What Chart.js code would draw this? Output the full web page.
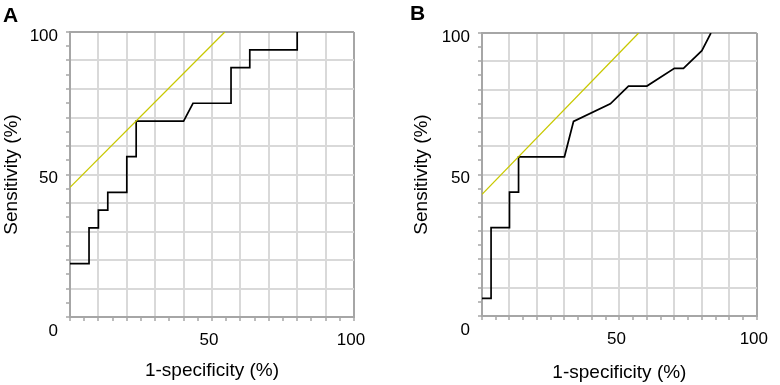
<!DOCTYPE html>
<html>
<head>
<meta charset="utf-8">
<script src="https://cdn.jsdelivr.net/npm/chart.js@4.4.1/dist/chart.umd.min.js"></script>
<style>
  body { margin: 0; background: #fff; }
  .panel { position: absolute; top: 0; width: 390px; height: 385px; }
  .tag { position: absolute; font: bold 21px "Liberation Sans", Arial, sans-serif; line-height: 21px; color: #000; }
</style>
</head>
<body>
<div class="panel" style="left:0"><canvas id="chart_a" width="390" height="385"></canvas></div>
<div class="panel" style="left:390px"><canvas id="chart_b" width="390" height="385"></canvas></div>
<div class="tag" style="left:3px;top:4px">A</div>
<div class="tag" style="left:410px;top:2px">B</div>
<script>
// panel A: ROC steps
const fprA  = [0, 6.7, 6.7, 10, 10, 13.3, 13.3, 20, 20, 23.3, 23.3, 40, 43.3, 56.7, 56.7, 63.3, 63.3, 80, 80];
const sensA = [18.75, 18.75, 31.25, 31.25, 37.5, 37.5, 43.75, 43.75, 56.25, 56.25, 68.75, 68.75, 75, 75, 87.5, 87.5, 93.75, 93.75, 100];
const tanAx = [0, 54.5];
const tanAy = [45.5, 100];

// panel B
const fprB  = [0, 3.3, 3.3, 10, 10, 13.3, 13.3, 30, 33.3, 46.7, 53.3, 60, 70, 73.3, 80, 83.3];
const sensB = [6.25, 6.25, 31.25, 31.25, 43.75, 43.75, 56.25, 56.25, 68.75, 75, 81.25, 81.25, 87.5, 87.5, 93.75, 100];
const tanBx = [0, 57];
const tanBy = [43, 100];

const labelTicks = [50, 100];
const xTitle = '1-specificity (%)';
const yTitle = 'Sensitivity (%)';

const fontFam = "'Liberation Sans', Arial, sans-serif";

function pts(xs, ys) {
  return xs.map((x, i) => ({ x: x, y: ys[i] }));
}

// the shared "0" sits under the y axis labels, a bit below the corner
const cornerZero = {
  id: 'cornerZero',
  afterDraw(chart) {
    const c = chart.ctx;
    const ys = chart.scales.y, xs = chart.scales.x;
    c.save();
    c.font = '17px ' + fontFam;
    c.fillStyle = '#000';
    c.textAlign = 'right';
    c.textBaseline = 'middle';
    c.fillText('0', ys.right - 12, xs.top + 14);
    c.restore();
  }
};

function axis(title, opts) {
  return {
    type: 'linear',
    min: 0,
    max: 100,
    afterFit: opts.fit,
    border: { color: '#a6a6a6', width: 2 },
    grid: {
      color: ctx => {
        const v = ctx.tick.value;
        if (v === 100) return '#a6a6a6';
        return v % 10 === 0 ? '#d9d9d9' : 'rgba(0,0,0,0)';
      },
      lineWidth: 2,
      tickColor: '#a6a6a6',
      tickLength: 4,
      tickWidth: 1.5
    },
    ticks: {
      stepSize: 5,
      autoSkip: false,
      maxRotation: 0,
      padding: opts.pad,
      labelOffset: opts.off,
      color: '#000',
      font: { size: 17, family: fontFam },
      callback: v => labelTicks.includes(v) ? String(v) : ''
    },
    title: {
      display: true,
      text: title,
      color: '#000',
      font: { size: 19, family: fontFam },
      padding: opts.titlePad
    }
  };
}

function makeChart(el, xs, ys, tx, ty, p) {
  new Chart(el, {
    type: 'scatter',
    data: {
      datasets: [{
        data: pts(tx, ty),
        showLine: true,
        borderColor: '#c8c800',
        borderWidth: 1.3,
        pointRadius: 0
      }, {
        data: pts(xs, ys),
        showLine: true,
        borderColor: '#000',
        borderWidth: 1.7,
        pointRadius: 0
      }]
    },
    options: {
      responsive: false,
      animation: false,
      layout: { padding: { left: p.left, right: p.right, top: p.top, bottom: 0 } },
      plugins: { legend: { display: false }, tooltip: { enabled: false } },
      scales: {
        x: axis(xTitle, { fit: s => { s.height = p.xh; }, pad: 9, off: -3, titlePad: { top: 0, bottom: p.tb } }),
        y: axis(yTitle, { fit: s => { s.width = p.yw; }, pad: 8, off: 4, titlePad: 0 })
      }
    },
    plugins: [cornerZero]
  });
}

makeChart(document.getElementById('chart_a'), fprA, sensA, tanAx, tanAy,
  { left: 0, right: 36, top: 32, xh: 68, yw: 70, tb: 3 });
makeChart(document.getElementById('chart_b'), fprB, sensB, tanBx, tanBy,
  { left: 20, right: 14, top: 33, xh: 69, yw: 72, tb: 1 });
</script>
</body>
</html>
